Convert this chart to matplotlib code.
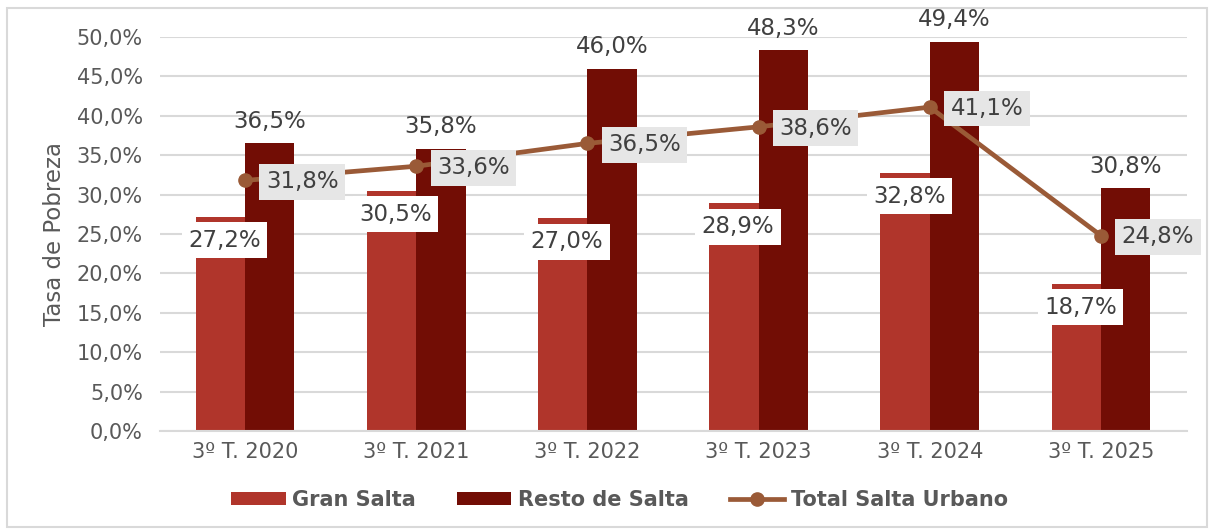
import numpy as np
import matplotlib.pyplot as plt
from matplotlib.patches import Rectangle
from matplotlib.ticker import FuncFormatter

plt.rcParams["font.family"] = ["DejaVu Sans"]

# ── Data ──────────────────────────────────────────────────────────────────────
periods     = ["3º T. 2020", "3º T. 2021", "3º T. 2022",
               "3º T. 2023", "3º T. 2024", "3º T. 2025"]
gran_salta  = [27.2, 30.5, 27.0, 28.9, 32.8, 18.7]
resto_salta = [36.5, 35.8, 46.0, 48.3, 49.4, 30.8]
total_urb   = [31.8, 33.6, 36.5, 38.6, 41.1, 24.8]

C_GRAN  = "#B0352B"
C_RESTO = "#720D05"
C_TOTAL = "#9A5A37"
C_TEXT  = "#404040"
C_TICK  = "#595959"
C_GRID  = "#D9D9D9"

def pct(v):
    return f"{v:.1f}".replace(".", ",") + "%"

# ── Figure ────────────────────────────────────────────────────────────────────
fig = plt.figure(figsize=(12.14, 5.30), dpi=100)
ax = fig.add_axes([159.5 / 1214, 1 - 431 / 530, 1027 / 1214, 394 / 530])

fig.patches.append(Rectangle((7 / 1214, 3 / 530), 1200 / 1214, 519 / 530,
                             transform=fig.transFigure, fill=False,
                             edgecolor="#D9D9D9", linewidth=1.5))

x = np.arange(len(periods))
w = 0.288

b1 = ax.bar(x - w / 2, gran_salta, w, color=C_GRAN, label="Gran Salta", zorder=2)
b2 = ax.bar(x + w / 2, resto_salta, w, color=C_RESTO, label="Resto de Salta", zorder=2)
l1, = ax.plot(x, total_urb, color=C_TOTAL, lw=3.4, marker="o", ms=9.5,
              label="Total Salta Urbano", zorder=4)

lab_fs = 16.5
for xi, v in zip(x, gran_salta):
    ax.annotate(pct(v), (xi - w / 2, v), xytext=(3, -17), textcoords="offset points",
                ha="center", va="center", fontsize=lab_fs, color=C_TEXT, zorder=5,
                bbox=dict(boxstyle="square,pad=0.28", fc="white", ec="none"))

for xi, v in zip(x, resto_salta):
    ax.annotate(pct(v), (xi + w / 2, v), xytext=(0, 16), textcoords="offset points",
                ha="center", va="center", fontsize=lab_fs, color=C_TEXT, zorder=5)

for xi, v in zip(x, total_urb):
    ax.annotate(pct(v), (xi, v), xytext=(15, -1), textcoords="offset points",
                ha="left", va="center", fontsize=lab_fs, color=C_TEXT, zorder=5,
                bbox=dict(boxstyle="square,pad=0.28", fc="#E6E6E6", ec="none"))

ax.set_xlim(-0.5, len(periods) - 0.5)
ax.set_ylim(0, 50)
ax.set_yticks(np.arange(0, 51, 5))
ax.yaxis.set_major_formatter(FuncFormatter(lambda v, _: pct(v)))
ax.set_xticks(x)
ax.set_xticklabels(periods)
ax.tick_params(axis="both", length=0, labelsize=15, colors=C_TICK, pad=8)
ax.tick_params(axis="y", pad=12)
ax.grid(axis="y", color=C_GRID, lw=1.5, zorder=0)
ax.set_axisbelow(True)
for s in ["top", "right", "left"]:
    ax.spines[s].set_visible(False)
ax.spines["bottom"].set_color(C_GRID)
ax.spines["bottom"].set_linewidth(1.5)

ax.set_ylabel("Tasa de Pobreza", fontsize=16.5, color=C_TICK, labelpad=8)

leg = ax.legend([b1, b2, l1], ["Gran Salta", "Resto de Salta", "Total Salta Urbano"],
                loc="center", bbox_to_anchor=(0.448, -0.175), ncol=3,
                frameon=False, handlelength=2.6, handleheight=0.6, handletextpad=0.3,
                columnspacing=2.0,
                prop={"weight": "bold", "size": 15})
for t in leg.get_texts():
    t.set_color(C_TICK)

fig.savefig("out.png", dpi=100)
